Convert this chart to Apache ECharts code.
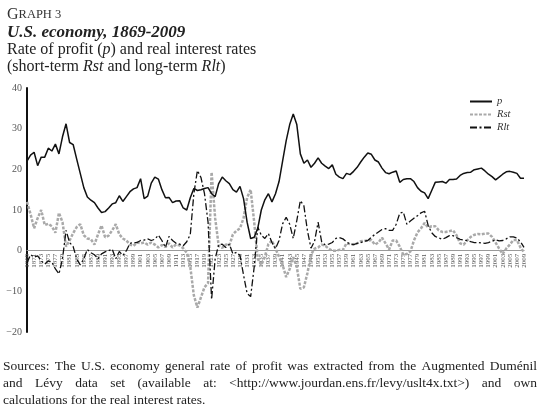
<!DOCTYPE html>
<html lang="en">
<head>
  <meta charset="UTF-8">
  <title>U.S. economy, 1869-2009</title>
  <style>
    html, body { margin: 0; padding: 0; background: #fff; }
  </style>
</head>
<body>
<div id="main" style="width:540px; height:412px;"></div>
<script type="text/javascript" src="https://cdn.jsdelivr.net/npm/echarts@6/dist/echarts.min.js"></script>
<script>
  // years 1869..2009 (category labels)
  var years = [];
  for (var y = 1869; y <= 2009; y++) years.push(String(y));

  // rate of profit p
  var profit = [22,23.5,24.2,20.9,23,23,25.2,24.5,26.2,23.8,
    28,31.2,26.6,26.1,22.5,19,15.5,13.2,12.4,11.8,
    10.5,9.4,9.6,10.5,11.5,11.8,13.5,12.1,13.3,14.5,
    15.2,15.5,17.7,12.8,13.4,16.6,18.1,17.6,15,13,
    13.1,11.8,12.2,12.3,10.5,10,13,15.3,14.8,15,
    15.3,15.5,14,13.3,16.5,18.1,17.2,16.5,15,14.4,
    15.8,12.8,7,3,3.3,5.5,10,12.5,14,12,
    14,17,22,27,31,33.6,31,23.8,21.5,22.3,
    20.5,21.5,22.8,21.5,20.8,20.2,21.1,18.8,18.1,17.7,
    19,18.7,19.5,20.5,21.8,23,24,23.7,22.3,21.8,
    20.3,19.2,18.9,19.3,19.6,16.8,17.5,17.7,17.7,17,
    15.5,14.6,14.2,12.8,14.8,16.8,16.9,17,16.6,17.5,
    17.5,17.6,18.5,19,19.2,19.3,19.9,20.1,20.3,19.6,
    18.8,18.2,17.4,18.1,18.8,19.4,19.5,19.3,19,17.8,
    17.8];

  // short-term real interest rate Rst
  var rst = [12,9,5.5,8,10,6.3,6.6,6,4.4,9.3,
    7,1,2.5,4.3,5.8,6.5,3.8,3,2.8,1.5,
    4,6.2,3.3,3.7,5,6.5,4,3,2.5,1.5,
    1.2,2,1.8,2,1.5,2,1.5,0.8,1.4,0.9,
    1.8,0.8,1.5,1.3,0.6,-0.5,-4,-11,-14,-11.5,
    -9,-8,19.3,8,1.2,0.7,1.5,1.3,4,4.9,
    5.5,8,13,15,7,-2,-3.5,-1.5,1.6,2.5,
    0.5,-1.5,-3.5,-6.5,-4.5,-1.6,-4,-9.4,-9,-5.5,
    -1,0.5,0.8,1.5,1.2,0.5,0,0,0.2,0.2,
    1.8,1.6,1.6,1.8,2.3,2.4,2.5,2.6,1.5,2,
    3.2,1.8,0.3,2.5,2.5,1,-1,-0.8,-0.2,2.5,
    4.5,5.5,6.8,5.7,6,6,5,4.6,4.6,4.8,
    5,3.8,1.8,1.5,2.5,3.4,3.9,4.1,4,4.2,
    4.2,3.4,2,0.5,-0.8,0.5,1.5,2.6,2.6,0.8,
    -0.4];

  // long-term real interest rate Rlt
  var rlt = [-3,-1,-1.6,-1.3,-2.5,-3.3,-2.5,-2.8,-4.5,-5.7,
    -2,5,2,1,-2,-3.5,-2,0.3,-0.5,-1,
    -2,-0.8,-0.3,0,0.4,-2,-0.2,-1.2,0,1.8,
    2,2,2.5,2.6,2.9,2.5,2.8,3.8,2.5,0.8,
    3.5,2.5,1.8,1.6,1.2,2.2,4,14,19.7,18,
    14,7,-12,-2,1.5,1.6,0.8,1.6,-0.8,-0.4,
    -1.2,-6,-10.5,-11.3,-4,5.8,3.8,3,4.2,2,
    0.5,2.5,6.6,8.2,6.5,3,7.4,12.3,11,4.9,
    0.6,2.3,7,2.2,1.4,1.6,2,3,3.2,2.9,
    2.2,1.6,1.5,1.8,2,2.3,2.5,3.3,4,4.6,
    5.2,5.4,5,5,6.5,9.2,9.5,6.5,7.3,8,
    8.6,9.3,9.7,6.2,4.4,3.5,3.1,2.8,3.2,3.7,
    3.7,3.2,2.8,2.6,2.5,2.2,2,2,1.9,1.8,
    2,2.3,2.7,2.4,2.5,2.9,3.4,3.4,3.1,2.2,
    0.8];

  var serif = '"Liberation Serif", "DejaVu Serif", serif';

  var sourceLines = [
    'Sources: The U.S. economy general rate of profit was extracted from the Augmented Duménil',
    'and Lévy data set (available at: <http://www.jourdan.ens.fr/levy/uslt4x.txt>) and own',
    'calculations for the real interest rates.'
  ];

  // spread the words of a line across the full width (justified text)
  var measureCtx = document.createElement('canvas').getContext('2d');
  function justified(line, top, x0, x1, size) {
    var font = size + 'px ' + serif;
    measureCtx.font = font;
    var words = line.split(' ');
    var widths = words.map(function (w) { return measureCtx.measureText(w).width; });
    var total = widths.reduce(function (a, b) { return a + b; }, 0);
    var gap = (x1 - x0 - total) / (words.length - 1);
    var out = [], x = x0;
    words.forEach(function (w, i) {
      out.push({ type: 'text', left: x, top: top,
        style: { text: w, font: font, fill: '#222' } });
      x += widths[i] + gap;
    });
    return out;
  }

  var graphics = []
    .concat(justified(sourceLines[0], 359, 3, 537, 13.5))
    .concat(justified(sourceLines[1], 376, 3, 537, 13.5));
  graphics.push({ type: 'text', left: 3, top: 393,
    style: { text: sourceLines[2], font: '13.5px ' + serif, fill: '#222' } });

  // y = 0 sits 20/60 of the plot height above the bottom of the grid
  var gridTop = 88, gridBottom = 80, plotH = 412 - gridTop - gridBottom;
  var zeroOffset = -plotH * 20 / 60;

  var plain = { fontFamily: serif, fontSize: 16, fontWeight: 'normal', color: '#222' };
  var ital = { fontFamily: serif, fontSize: 16, fontWeight: 'normal', fontStyle: 'italic', color: '#222' };

  var chart = echarts.init(document.getElementById('main'));
  var option = {
    animation: false,
    backgroundColor: '#fff',
    title: [
      {
        left: 2, top: 2,
        text: '{b|G}{s|RAPH 3}',
        textStyle: {
          fontWeight: 'normal',
          rich: {
            b: { fontFamily: serif, fontSize: 16, fontWeight: 'normal', color: '#333' },
            s: { fontFamily: serif, fontSize: 12.5, fontWeight: 'normal', color: '#333' }
          }
        }
      },
      {
        left: 2, top: 19,
        text: 'U.S. economy, 1869-2009',
        textStyle: { fontFamily: serif, fontSize: 17, fontWeight: 'bold', fontStyle: 'italic', color: '#222' }
      },
      {
        left: 2, top: 37,
        text: '{n|Rate of profit (}{i|p}{n|) and real interest rates}',
        textStyle: { fontWeight: 'normal', rich: { n: plain, i: ital } }
      },
      {
        left: 2, top: 54,
        text: '{n|(short-term }{i|Rst}{n| and long-term }{i|Rlt}{n|)}',
        textStyle: { fontWeight: 'normal', rich: { n: plain, i: ital } }
      }
    ],
    legend: {
      orient: 'vertical',
      left: 464, top: 91,
      itemWidth: 22, itemHeight: 8, itemGap: 2,
      itemStyle: { opacity: 0 },
      textStyle: { fontFamily: serif, fontSize: 10.5, fontStyle: 'italic', color: '#333' },
      data: ['p', 'Rst', 'Rlt']
    },
    grid: { left: 27, right: 16, top: gridTop, bottom: gridBottom },
    xAxis: {
      type: 'category',
      data: years,
      boundaryGap: false,
      offset: zeroOffset,
      axisLine: { onZero: false, lineStyle: { color: '#999', width: 1.2 } },
      axisTick: { show: false },
      axisLabel: {
        rotate: 90, interval: 1, margin: 3,
        fontFamily: serif, fontSize: 7, color: '#555'
      },
      splitLine: { show: false }
    },
    yAxis: {
      type: 'value',
      min: -20, max: 40, interval: 10,
      axisLine: { show: true, onZero: false, lineStyle: { color: '#111', width: 2 } },
      axisTick: { show: false },
      splitLine: { show: false },
      axisLabel: {
        margin: 5, fontFamily: serif, fontSize: 10, color: '#555',
        formatter: function (v) { return String(v).replace('-', '\u2212'); }
      }
    },
    series: [
      {
        name: 'p', type: 'line', data: profit, symbol: 'none', z: 4,
        lineStyle: { color: '#111', width: 1.5 },
        itemStyle: { color: '#111' }
      },
      {
        name: 'Rst', type: 'line', data: rst, symbol: 'none', z: 2,
        lineStyle: { color: '#a9a9a9', width: 2.5, type: [3, 1.5] },
        itemStyle: { color: '#a9a9a9' }
      },
      {
        name: 'Rlt', type: 'line', data: rlt, symbol: 'none', z: 3,
        lineStyle: { color: '#111', width: 1.3, type: [7, 2.5, 2, 2.5] },
        itemStyle: { color: '#111' }
      }
    ],
    graphic: graphics
  };
  chart.setOption(option);
</script>
</body>
</html>
